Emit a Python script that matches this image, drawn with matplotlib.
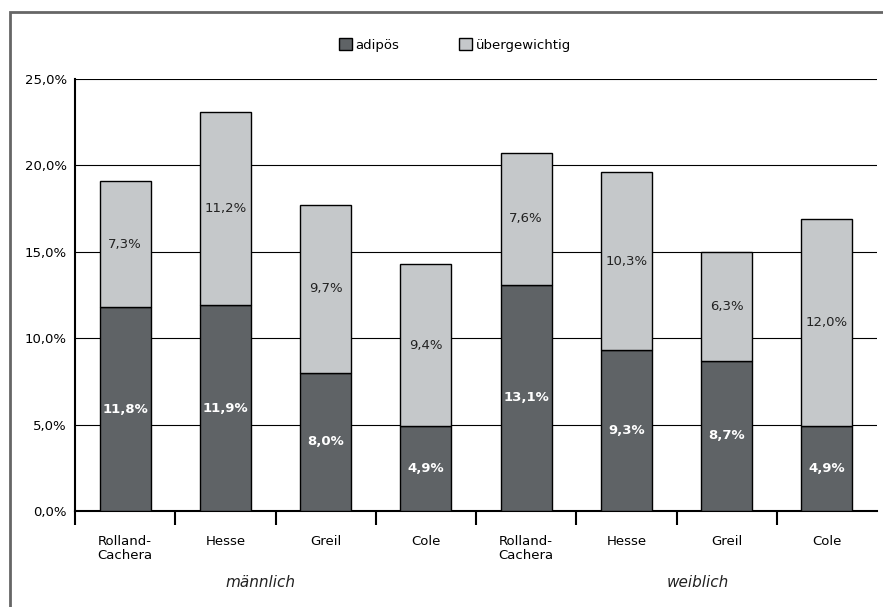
import matplotlib.pyplot as plt
from matplotlib.patches import Rectangle, Patch
import numpy as np

categories = ["Rolland-\nCachera", "Hesse", "Greil", "Cole",
              "Rolland-\nCachera", "Hesse", "Greil", "Cole"]
groups = ["männlich", "weiblich"]
adipoes = [11.8, 11.9, 8.0, 4.9, 13.1, 9.3, 8.7, 4.9]
uebergewichtig = [7.3, 11.2, 9.7, 9.4, 7.6, 10.3, 6.3, 12.0]

dark = "#5f6366"
light = "#c5c8ca"

def fmt(v):
    return f"{v:.1f}%".replace(".", ",")

fig = plt.figure(figsize=(8.83, 6.07), dpi=100)
ax = fig.add_axes([75/883, 1-511/607, 802/883, 432/607])

x = np.arange(len(categories))
ax.bar(x, adipoes, width=0.51, color=dark, edgecolor="black", linewidth=1, zorder=3)
ax.bar(x, uebergewichtig, width=0.51, bottom=adipoes, color=light,
       edgecolor="black", linewidth=1, zorder=3)

for i in x:
    ax.text(i, adipoes[i] / 2, fmt(adipoes[i]), ha="center", va="center",
            color="white", fontsize=9.5, fontweight="semibold", zorder=4)
    ax.text(i, adipoes[i] + uebergewichtig[i] / 2, fmt(uebergewichtig[i]),
            ha="center", va="center", color="#222222", fontsize=9.5, zorder=4)

ax.set_xlim(-0.5, len(categories) - 0.5)
ax.set_ylim(0, 25)
ax.set_yticks(np.arange(0, 26, 5))
ax.set_yticklabels([fmt(v) for v in np.arange(0, 26, 5)], fontsize=9.5)
ax.yaxis.grid(True, color="black", linewidth=0.8, zorder=0)
ax.tick_params(axis="y", length=0, pad=6)

ax.set_xticks(x)
ax.set_xticklabels(categories, fontsize=9.5, linespacing=1.15)
ax.set_xticks(np.arange(-0.5, len(categories) - 1), minor=True)
ax.tick_params(axis="x", which="major", length=0, pad=17)
ax.tick_params(axis="x", which="minor", length=10, width=1.5, direction="out")

for s in ["top", "right"]:
    ax.spines[s].set_visible(False)
ax.spines["left"].set_linewidth(1.5)
ax.spines["bottom"].set_linewidth(1.5)

ax.text(1.35, -0.165, groups[0], transform=ax.get_xaxis_transform(),
        ha="center", va="center", fontsize=11, style="italic", color="#222222")
ax.text(5.71, -0.165, groups[1], transform=ax.get_xaxis_transform(),
        ha="center", va="center", fontsize=11, style="italic", color="#222222")

handles = [Patch(facecolor=dark, edgecolor="black", label="adipös"),
           Patch(facecolor=light, edgecolor="black", label="übergewichtig")]
fig.legend(handles=handles, loc="center", bbox_to_anchor=(455/883, 1-45/607),
           ncol=2, frameon=False, handlelength=1.0, handleheight=1.0,
           handletextpad=0.3, columnspacing=4.5, fontsize=9.5)

fig.add_artist(Rectangle((10/883, -0.1), 1.2, 1.1 - 12/607, transform=fig.transFigure,
                         fill=False, edgecolor="#666666", linewidth=2, clip_on=False))

fig.savefig("out.png", dpi=100)
